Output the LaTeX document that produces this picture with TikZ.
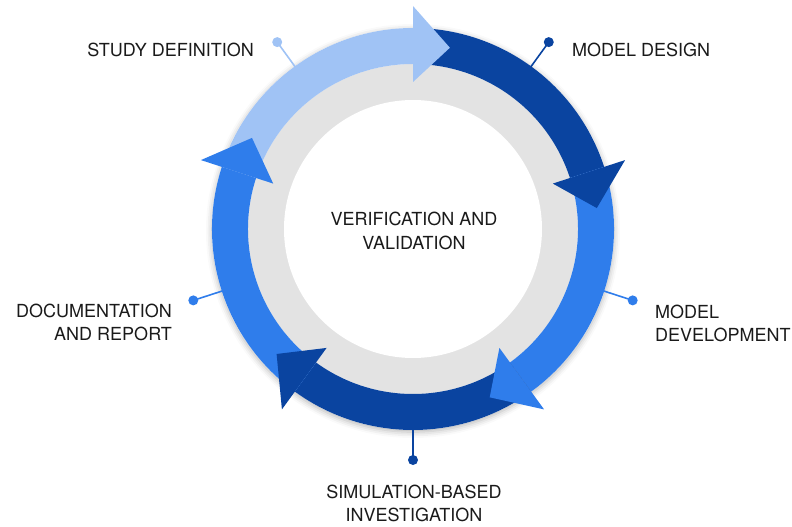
\documentclass[tikz,border=0pt]{standalone}
\usepackage{fontspec}
\setmainfont{TeX Gyre Heros}
\usetikzlibrary{shadows.blur}
\definecolor{lightb}{HTML}{A0C3F5}
\definecolor{darkb}{HTML}{0A44A0}
\definecolor{midb}{HTML}{2F7DEB}
\definecolor{ringgray}{HTML}{E3E3E3}
\definecolor{txt}{HTML}{1A1A1A}
\tikzset{
  lbl/.style={inner sep=0pt, text=txt, font=\fontsize{18}{23.5}\selectfont},
  pindot/.style={circle, inner sep=0pt, minimum size=10pt},
  pinline/.style={line width=1.6pt},
}
\begin{document}
\begin{tikzpicture}[x=1pt,y=1pt]
\useasboundingbox (-413,-298) rectangle (379,229);
% gray ring and inner disk
\fill[ringgray] (0,0) circle (170);
\fill[white, blur shadow={shadow xshift=0pt, shadow yshift=0pt, shadow blur radius=5pt, shadow opacity=18}] (0,0) circle (129);
% shadow of the arrow ring
\fill[white, blur shadow={shadow xshift=0pt, shadow yshift=-2pt, shadow blur radius=6pt, shadow opacity=30}] (0,0) circle (201);
\fill[ringgray] (0,0) circle (165);
\fill[white] (0,0) circle (129);
% bands
\foreach \s/\b/\c in {162/90/lightb, 90/18/darkb, 18/-54/midb, -54/-126/darkb, -126/-198/midb}{
  \fill[\c] (\s:201) arc[start angle=\s, end angle=\b, radius=201] -- (\b:165) arc[start angle=\b, end angle=\s, radius=165] -- cycle;
}
% heads
\foreach \b/\c in {90/lightb, 18/darkb, -54/midb, -126/darkb, -198/midb}{
  \fill[\c] (\b:147) -- (\b:223) -- ({\b-11.5}:185) -- cycle;
}
% pins
\foreach \n/\a/\c in {sd/126/lightb, md/54/darkb, dv/-18/midb, sb/-90/darkb, dr/-162/midb}{
  \coordinate (r\n) at (\a:200);
  \node[pindot, fill=\c] (p\n) at (\a:231) {};
  \draw[pinline, draw=\c] (r\n) -- (p\n.center);
}
% labels
\node[lbl, anchor=base east] (tsd) at (-159,172) {STUDY DEFINITION};
\node[lbl, anchor=base west] (tmd) at (159,172) {MODEL DESIGN};
\node[lbl, anchor=base east, align=right] (tdr) at (-241,-111.5) {DOCUMENTATION\\AND REPORT};
\node[lbl, anchor=base west, align=left] (tdv) at (242,-112.5) {MODEL\\DEVELOPMENT};
\node[lbl, anchor=base, align=center] (tsb) at (1,-292.5) {SIMULATION-BASED\\INVESTIGATION};
\node[lbl, anchor=base, align=center] (tvv) at (1,-20.5) {VERIFICATION AND\\VALIDATION};
\end{tikzpicture}
\end{document}
